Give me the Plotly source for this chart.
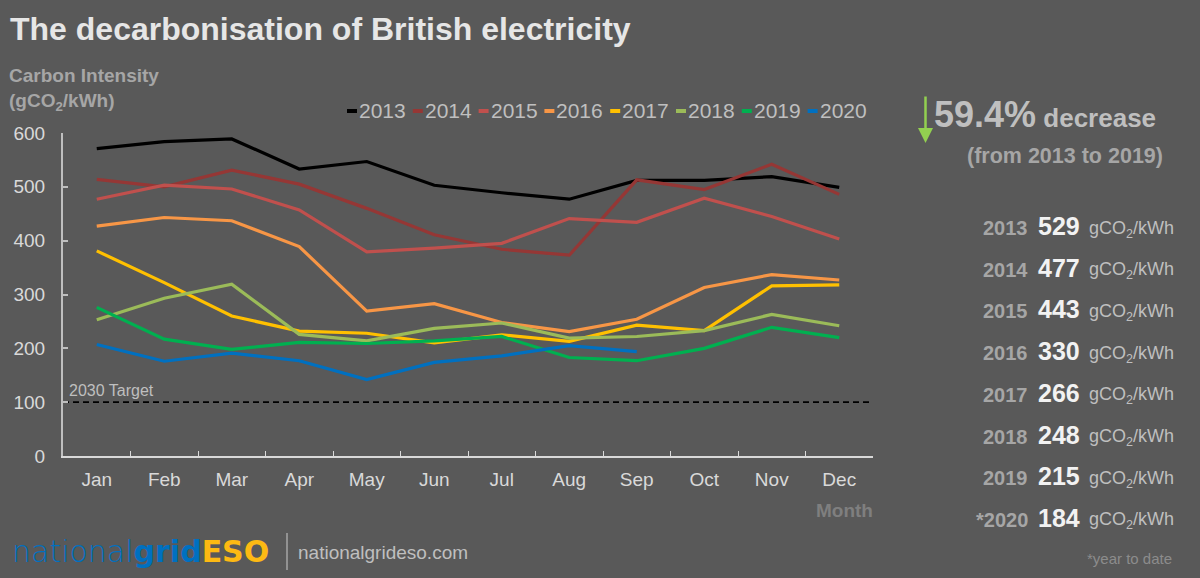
import plotly.graph_objects as go

# ---------------- data ----------------
MONTHS = ["Jan", "Feb", "Mar", "Apr", "May", "Jun", "Jul", "Aug", "Sep", "Oct", "Nov", "Dec"]
YEARS = ["2013", "2014", "2015", "2016", "2017", "2018", "2019", "2020"]

CI_2013 = [571, 584, 589, 533, 547, 503, 489, 477, 512, 512, 519, 499]
CI_2014 = [514, 500, 531, 505, 460, 411, 384, 373, 513, 495, 542, 486]
CI_2015 = [477, 503, 496, 457, 379, 386, 395, 441, 434, 479, 445, 403]
CI_2016 = [427, 443, 437, 389, 269, 283, 248, 231, 254, 313, 337, 327]
CI_2017 = [381, 322, 260, 232, 228, 210, 225, 213, 243, 233, 316, 318]
CI_2018 = [253, 293, 319, 226, 214, 237, 247, 219, 222, 233, 263, 242]
CI_2019 = [276, 217, 198, 211, 209, 214, 222, 183, 177, 200, 239, 220]
CI_2020 = [207, 176, 191, 177, 142, 174, 186, 205, 194]

SERIES = [CI_2013, CI_2014, CI_2015, CI_2016, CI_2017, CI_2018, CI_2019, CI_2020]

ANNUAL_LABELS = ["2013", "2014", "2015", "2016", "2017", "2018", "2019", "*2020"]
ANNUAL_MEANS = [529, 477, 443, 330, 266, 248, 215, 184]

TARGET_2030 = 100
Y_TICKS = [0, 100, 200, 300, 400, 500, 600]

# ---------------- style ----------------
COLORS = ["#000000", "#953735", "#C0504D", "#F79646", "#FFC000", "#9BBB59", "#00B050", "#0070C0"]
BG = "#595959"
FONT = "Liberation Sans, Arial, sans-serif"

W, H = 1200, 578
ML, MR, MT, MB = 63, 327, 133, 122
PW, PH = W - ML - MR, H - MT - MB


def px(x):
    return (x - ML) / PW


def py(y):
    return (H - MB - y) / PH


fig = go.Figure()
for year, vals, col in zip(YEARS, SERIES, COLORS):
    fig.add_trace(go.Scatter(
        x=MONTHS[:len(vals)], y=vals, name=year, mode="lines",
        line=dict(color=col, width=3.2), showlegend=False,
        hovertemplate="%{x} " + year + ": %{y}<extra></extra>",
    ))

shapes = [
    dict(type="line", xref="paper", yref="y", x0=0, x1=1, y0=TARGET_2030, y1=TARGET_2030,
         line=dict(color="#000000", width=1.8, dash="6px,4px"), layer="below"),
]

ann = []
# title
ann.append(dict(text="<b>The decarbonisation of British electricity</b>", x=px(8), y=py(29),
                xanchor="left", yanchor="middle", font=dict(size=32, color="#E6E6E6", family=FONT)))
# y-axis title
ann.append(dict(text="<b>Carbon Intensity<br>(gCO<sub>2</sub>/kWh)</b>", x=px(7), y=py(63),
                xanchor="left", yanchor="top", align="left",
                font=dict(size=19, color="#A6A6A6", family=FONT)))
# x-axis title
ann.append(dict(text="<b>Month</b>", x=px(875), y=py(510), xanchor="right", yanchor="middle",
                font=dict(size=19, color="#7F7F7F", family=FONT)))
# target label
ann.append(dict(text="2030 Target", x=px(67), y=py(390), xanchor="left", yanchor="middle",
                font=dict(size=16, color="#BFBFBF", family=FONT)))

# manual legend
for i, (year, col) in enumerate(zip(YEARS, COLORS)):
    x0 = 347 + i * 65.8
    shapes.append(dict(type="line", xref="paper", yref="paper", x0=px(x0), x1=px(x0 + 10),
                       y0=py(111), y1=py(111), line=dict(color=col, width=4)))
    ann.append(dict(text=year, x=px(x0 + 10), y=py(110), xanchor="left", yanchor="middle",
                    font=dict(size=21, color="#BFBFBF", family=FONT)))

# decrease headline
first, last = ANNUAL_MEANS[0], ANNUAL_MEANS[6]
pct = round((first - last) / first * 100, 1)
ann.append(dict(text=f"<b><span style='font-size:36px'>{pct}%</span> decrease</b>",
                x=px(932), y=py(114), xanchor="left", yanchor="middle",
                font=dict(size=26, color="#BFBFBF", family=FONT)))
ann.append(dict(text=f"<b>(from {ANNUAL_LABELS[0]} to {ANNUAL_LABELS[6]})</b>",
                x=px(1165), y=py(156), xanchor="right", yanchor="middle",
                font=dict(size=21.5, color="#A6A6A6", family=FONT)))
ann.append(dict(text="", x=px(925.5), y=py(143), ax=0, ay=-48, showarrow=True,
                arrowhead=2, arrowsize=1.2, arrowwidth=2.5, arrowcolor="#92D050", standoff=0))

# annual table
for i, (lab, val) in enumerate(zip(ANNUAL_LABELS, ANNUAL_MEANS)):
    yc = 227 + i * 41.7
    ann.append(dict(text=f"<b>{lab}</b>", x=px(1030), y=py(yc + 1), xanchor="right", yanchor="middle",
                    font=dict(size=20, color="#A6A6A6", family=FONT)))
    ann.append(dict(text=f"<b>{val}</b>", x=px(1036), y=py(yc - 1), xanchor="left", yanchor="middle",
                    font=dict(size=25, color="#F2F2F2", family=FONT)))
    ann.append(dict(text="gCO<sub>2</sub>/kWh", x=px(1087), y=py(yc + 2), xanchor="left", yanchor="middle",
                    font=dict(size=18, color="#BFBFBF", family=FONT)))
ann.append(dict(text="*year to date", x=px(1174), y=py(558), xanchor="right", yanchor="middle",
                font=dict(size=15, color="#8C8C8C", family=FONT)))

# logo / footer
LOGO = "DejaVu Sans, sans-serif"
ann.append(dict(text=("<span style='font-weight:200'>national</span><b>grid</b>"
                      "<span style='color:#FDB913'><b>ESO</b></span>"),
                x=px(10), y=py(551), xanchor="left", yanchor="middle",
                font=dict(size=30, color="#0070C0", family=LOGO)))
shapes.append(dict(type="line", xref="paper", yref="paper", x0=px(287), x1=px(287),
                   y0=py(533), y1=py(570), line=dict(color="#A6A6A6", width=1.5)))
ann.append(dict(text="nationalgrideso.com", x=px(296), y=py(552), xanchor="left", yanchor="middle",
                font=dict(size=19, color="#BFBFBF", family=FONT)))

for a in ann:
    a.setdefault("xref", "paper")
    a.setdefault("yref", "paper")
    a.setdefault("showarrow", False)

fig.update_layout(
    width=W, height=H,
    margin=dict(l=ML, r=MR, t=MT, b=MB),
    paper_bgcolor=BG, plot_bgcolor=BG,
    font=dict(family=FONT, color="#D9D9D9"),
    showlegend=False,
    shapes=shapes,
    annotations=ann,
    xaxis=dict(
        type="category", categoryorder="array", categoryarray=MONTHS,
        range=[-0.5, 11.5], showgrid=False, zeroline=False,
        showline=True, linecolor="#D9D9D9", linewidth=2,
        ticks="inside", tickson="boundaries", ticklen=5, tickcolor="#D9D9D9", tickwidth=1,
        tickfont=dict(size=19, color="#D9D9D9"), ticklabelstandoff=5,
    ),
    yaxis=dict(
        range=[0, 600], tickvals=Y_TICKS, showgrid=False, zeroline=False,
        showline=True, linecolor="#BFBFBF", linewidth=2,
        ticks="inside", ticklen=5, tickcolor="#BFBFBF", tickwidth=1.5,
        tickfont=dict(size=19, color="#D9D9D9"), ticklabelstandoff=12,
    ),
)

fig.write_html("out.html")
